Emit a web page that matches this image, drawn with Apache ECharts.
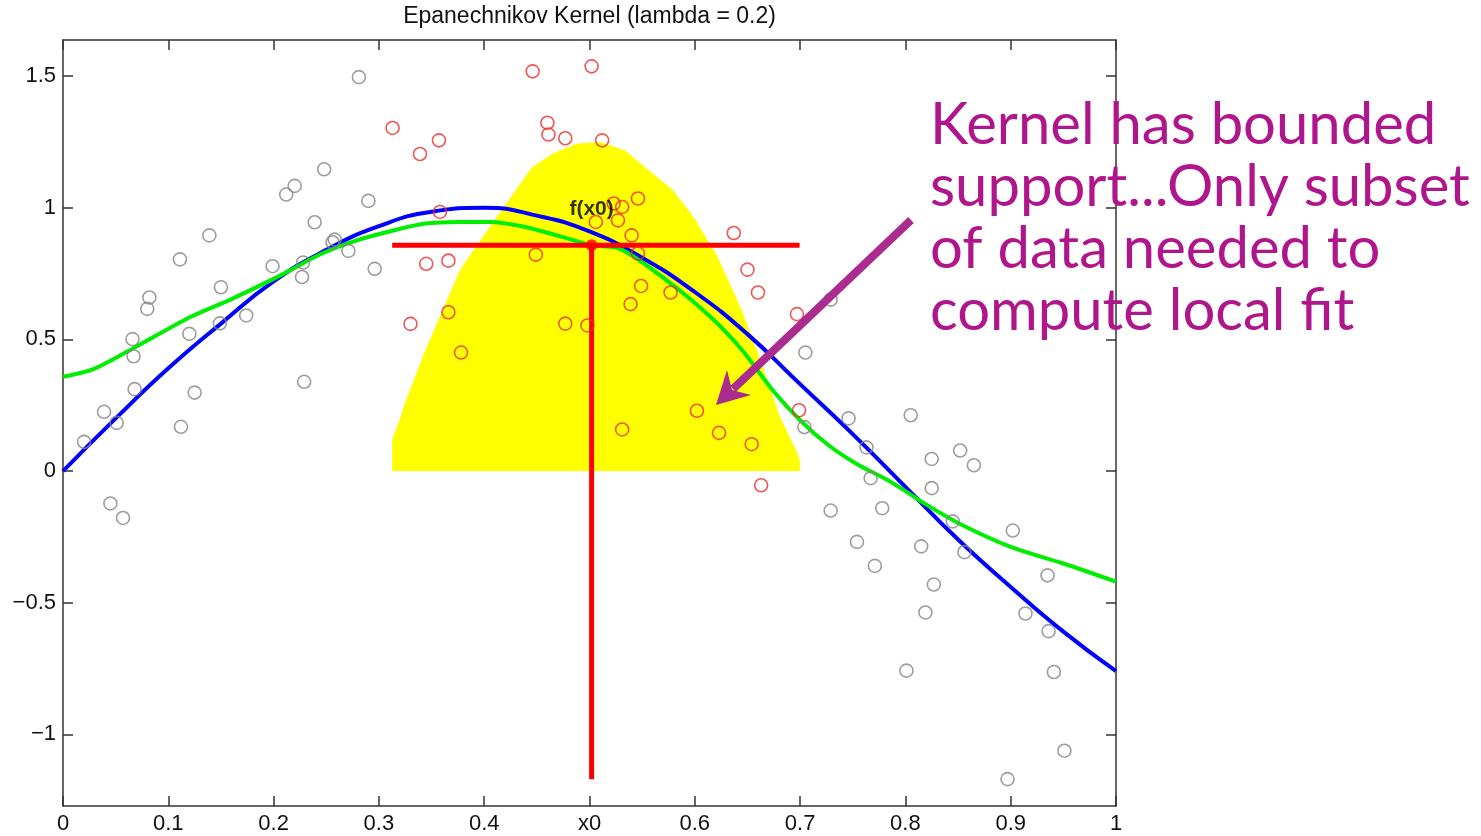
<!DOCTYPE html>
<html>
<head>
<meta charset="utf-8">
<script src="https://cdn.jsdelivr.net/npm/echarts@6/dist/echarts.min.js"></script>
<style>
  html, body { margin: 0; padding: 0; background: #fff; }
  #chart { width: 1481px; height: 836px; }
</style>
</head>
<body>
<div id="chart"></div>
<script>
// data
const xTickLabels = ["0", "0.1", "0.2", "0.3", "0.4", "x0", "0.6", "0.7", "0.8", "0.9", "1"];
const yTicks = [-1, -0.5, 0, 0.5, 1, 1.5];

const grayPts = [
  [0.020, 0.111], [0.039, 0.225], [0.051, 0.183], [0.045, -0.123], [0.057, -0.178],
  [0.066, 0.501], [0.067, 0.436], [0.068, 0.311], [0.080, 0.616], [0.082, 0.659],
  [0.111, 0.804], [0.112, 0.168], [0.120, 0.521], [0.125, 0.298], [0.139, 0.895],
  [0.150, 0.698], [0.149, 0.561], [0.174, 0.591], [0.199, 0.778], [0.212, 1.050],
  [0.220, 1.083], [0.228, 0.792], [0.227, 0.737], [0.229, 0.339], [0.239, 0.945],
  [0.248, 1.146], [0.256, 0.869], [0.258, 0.879], [0.271, 0.836], [0.281, 1.496],
  [0.290, 1.026], [0.296, 0.768],
  [0.729, 0.651], [0.705, 0.450], [0.805, 0.212], [0.746, 0.200], [0.704, 0.167],
  [0.763, 0.090], [0.852, 0.078], [0.825, 0.046], [0.865, 0.022], [0.767, -0.027],
  [0.825, -0.065], [0.729, -0.150], [0.778, -0.141], [0.845, -0.191], [0.902, -0.226],
  [0.754, -0.269], [0.815, -0.286], [0.856, -0.308], [0.771, -0.360], [0.935, -0.396],
  [0.827, -0.431], [0.914, -0.541], [0.819, -0.537], [0.936, -0.608], [0.801, -0.758],
  [0.941, -0.763], [0.951, -1.062], [0.897, -1.170]
];

const redPts = [
  [0.446, 1.518], [0.502, 1.537], [0.313, 1.303], [0.460, 1.323], [0.461, 1.278],
  [0.477, 1.264], [0.357, 1.256], [0.339, 1.204], [0.358, 0.984], [0.506, 0.946],
  [0.449, 0.822], [0.345, 0.787], [0.366, 0.799], [0.366, 0.603], [0.330, 0.559],
  [0.477, 0.560], [0.498, 0.553], [0.378, 0.450], [0.512, 1.256], [0.546, 1.035],
  [0.523, 1.016], [0.531, 1.003], [0.527, 0.952], [0.540, 0.895], [0.546, 0.826],
  [0.637, 0.904], [0.650, 0.765], [0.660, 0.678], [0.549, 0.703], [0.577, 0.678],
  [0.539, 0.634], [0.697, 0.596], [0.602, 0.229], [0.699, 0.231], [0.531, 0.158],
  [0.623, 0.145], [0.654, 0.102], [0.663, -0.054]
];

// true function (blue)
const blueX = [0, 0.05, 0.1, 0.15, 0.2, 0.25, 0.3, 0.35, 0.4, 0.45, 0.5,
               0.55, 0.6, 0.65, 0.7, 0.75, 0.8, 0.85, 0.9, 0.95, 1];
const blueY = [0, 0.2, 0.39, 0.56, 0.72, 0.84, 0.93, 0.985, 1.0, 0.97, 0.91,
               0.81, 0.68, 0.52, 0.33, 0.14, -0.06, -0.26, -0.44, -0.61, -0.76];

// kernel regression fit (green)
const greenPts = [
  [0, 0.358], [0.030, 0.389], [0.072, 0.478], [0.121, 0.585], [0.161, 0.655],
  [0.207, 0.744], [0.246, 0.826], [0.279, 0.876], [0.308, 0.908], [0.344, 0.940],
  [0.377, 0.946], [0.406, 0.946], [0.439, 0.927], [0.469, 0.895], [0.502, 0.858],
  [0.530, 0.842], [0.573, 0.725], [0.615, 0.585], [0.645, 0.459], [0.674, 0.307],
  [0.700, 0.193], [0.727, 0.098], [0.753, 0.029], [0.786, -0.041], [0.818, -0.123],
  [0.851, -0.199], [0.900, -0.288], [0.950, -0.351], [1.0, -0.42]
];

// kernel shape (yellow)
const kernelPts = [
  [0.3126, 0.121], [0.3196, 0.193], [0.3244, 0.257], [0.3441, 0.459], [0.3768, 0.763],
  [0.4096, 0.952], [0.4456, 1.155], [0.4653, 1.206], [0.4882, 1.244], [0.5105, 1.250],
  [0.5334, 1.218], [0.5564, 1.142], [0.5793, 1.066], [0.5989, 0.965], [0.6218, 0.813],
  [0.6447, 0.611], [0.6645, 0.396], [0.6808, 0.206], [0.6955, 0.086], [0.6998, 0.041],
  [0.6998, 0]
];

const x0 = 0.502;
const fx0 = 0.858;
const windowLo = 0.3126;
const windowHi = 0.6995;
const stemBottom = -1.17;

const annotation = ["Kernel has bounded", "support...Only subset", "of data needed to", "compute local fit"];

const chart = echarts.init(document.getElementById("chart"));

const tickFont = { color: "#111", fontSize: 22, fontFamily: "Liberation Sans, Arial, sans-serif" };
const boxLine = { lineStyle: { color: "#333", width: 1.5 } };

function xAxisDef(pos, showLabel) {
  return {
    type: "value",
    position: pos,
    min: 0,
    max: 1,
    interval: 0.1,
    axisLine: Object.assign({ show: true, onZero: false }, boxLine),
    axisTick: { show: true, inside: true, length: 10, lineStyle: { color: "#333", width: 1.5 } },
    axisLabel: Object.assign({
      show: showLabel,
      margin: 7,
      formatter: (v) => xTickLabels[Math.round(v * 10)],
    }, tickFont),
    splitLine: { show: false },
  };
}

function yAxisDef(pos, showLabel) {
  return {
    type: "value",
    position: pos,
    min: -1.272,
    max: 1.637,
    axisLine: Object.assign({ show: true, onZero: false }, boxLine),
    axisTick: { show: true, inside: true, length: 10, customValues: yTicks, lineStyle: { color: "#333", width: 1.5 } },
    axisLabel: Object.assign({
      show: showLabel,
      margin: 7,
      customValues: yTicks,
      formatter: (v) => String(v).replace("-", "\u2212"),
    }, tickFont),
    splitLine: { show: false },
  };
}

const circleStyle = (c) => ({ color: "rgba(0,0,0,0)", borderColor: c, borderWidth: 1.6 });
const arrowColor = "#a92c8e";

let option = {
  animation: false,
  backgroundColor: "#fff",
  grid: { left: 63, right: 365, top: 40, bottom: 30 },
  xAxis: [xAxisDef("bottom", true), xAxisDef("top", false)],
  yAxis: [yAxisDef("left", true), yAxisDef("right", false)],
  series: [
    {
      name: "kernel",
      type: "line",
      data: kernelPts,
      showSymbol: false,
      lineStyle: { width: 0 },
      areaStyle: { color: "#ffff00", opacity: 1 },
      z: 1,
    },
    {
      name: "truth",
      type: "line",
      data: blueX.map((x, i) => [x, blueY[i]]),
      smooth: true,
      showSymbol: false,
      lineStyle: { color: "#0000ff", width: 4 },
      z: 2,
    },
    {
      name: "fit",
      type: "line",
      data: greenPts,
      smooth: 0.3,
      showSymbol: false,
      lineStyle: { color: "#00ee00", width: 4 },
      z: 3,
    },
    {
      name: "window",
      type: "line",
      data: [[windowLo, fx0], [windowHi, fx0]],
      showSymbol: false,
      lineStyle: { color: "#ff0000", width: 5 },
      z: 4,
    },
    {
      name: "stem",
      type: "line",
      data: [[x0, fx0], [x0, stemBottom]],
      showSymbol: false,
      lineStyle: { color: "#ff0000", width: 5 },
      z: 4,
    },
    {
      name: "outside",
      type: "scatter",
      data: grayPts,
      symbol: "circle",
      symbolSize: 13,
      itemStyle: circleStyle("#858585"),
      z: 5,
    },
    {
      name: "inside",
      type: "scatter",
      data: redPts,
      symbol: "circle",
      symbolSize: 13,
      itemStyle: circleStyle("#ee2b2b"),
      z: 5,
    },
    {
      name: "fx0",
      type: "scatter",
      data: [[x0, fx0]],
      symbolSize: 12,
      itemStyle: { color: "#ff0000" },
      label: {
        show: true,
        position: "top",
        distance: 19,
        formatter: "f(x0)",
        color: "#000",
        fontWeight: "bold",
        fontSize: 21,
        fontFamily: "Liberation Sans, Arial, sans-serif",
      },
      z: 6,
    },
  ],
  graphic: [
    {
      type: "text",
      x: 589.5,
      y: 17,
      z: 100,
      style: {
        text: "Epanechnikov Kernel (lambda = 0.2)",
        fill: "#111",
        fontSize: 23,
        fontFamily: "Liberation Sans, Arial, sans-serif",
        textAlign: "center",
        textVerticalAlign: "middle",
      },
    },
    // arrow
    {
      type: "line",
      z: 100,
      shape: { x1: 911, y1: 220, x2: 733, y2: 389 },
      style: { stroke: arrowColor, lineWidth: 8 },
    },
    {
      type: "polygon",
      z: 100,
      shape: { points: [[716, 405], [727, 370], [732, 390], [751, 395]] },
      style: { fill: arrowColor },
    },
  ].concat(annotation.map((t, i) => ({
    type: "text",
    x: 930,
    y: 125 + i * 62,
    z: 100,
    style: {
      text: t,
      fill: "#b0168c",
      fontSize: 58,
      fontFamily: "Lato, sans-serif",
      textAlign: "left",
      textVerticalAlign: "middle",
    },
  }))),
};

chart.setOption(option);
</script>
</body>
</html>
